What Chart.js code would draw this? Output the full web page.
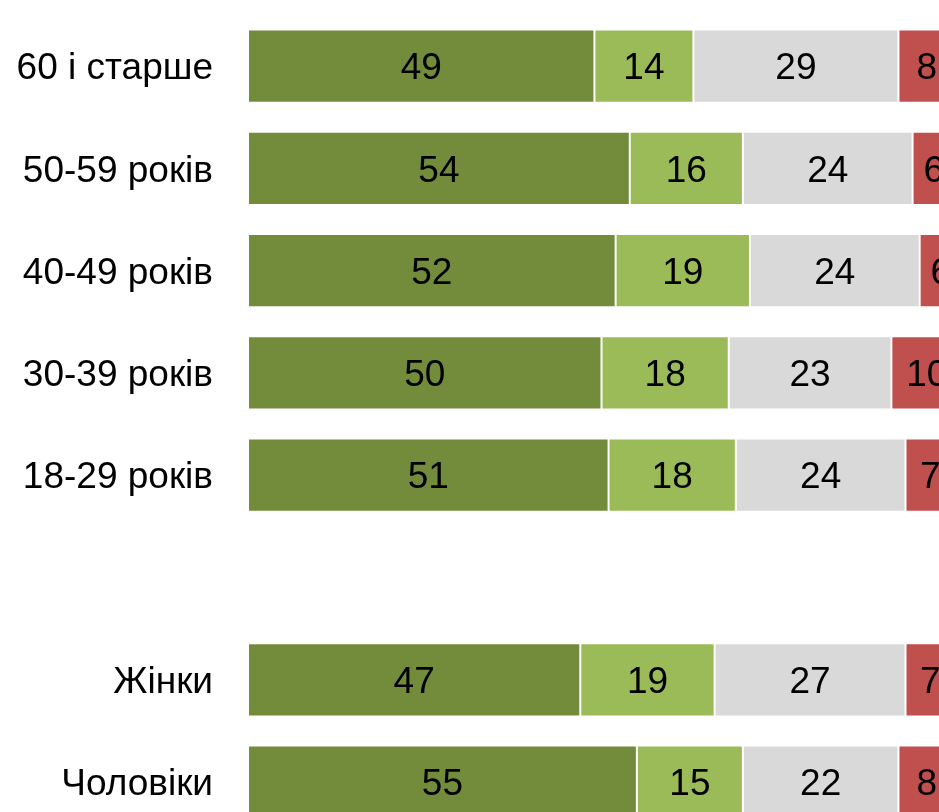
<!DOCTYPE html>
<html>
<head>
<meta charset="utf-8">
<script src="https://cdn.jsdelivr.net/npm/chart.js@4"></script>
<style>
  html, body { margin: 0; padding: 0; background: #fff; overflow: hidden; }
  #wrap { width: 939px; height: 812px; overflow: hidden; }
</style>
</head>
<body>
<div id="wrap"><canvas id="chart" width="956" height="848"></canvas></div>
<script>
// Categories (top to bottom), empty one is the gap between age and gender groups
const categories = ["60 і старше", "50-59 років", "40-49 років", "30-39 років", "18-29 років", "", "Жінки", "Чоловіки"];

// Series values
const series1 = [49, 54, 52, 50, 51, null, 47, 55];
const series2 = [14, 16, 19, 18, 18, null, 19, 15];
const series3 = [29, 24, 24, 23, 24, null, 27, 22];
const series4 = [8, 6, 6, 10, 7, null, 7, 8];

const colors = ["#728c3c", "#9bbb59", "#d9d9d9", "#c0504d"];
const fontFamily = "'Liberation Sans', Arial, sans-serif";

// Draw value in the middle of each segment
const valueLabels = {
  id: "valueLabels",
  afterDatasetsDraw(chart) {
    const ctx = chart.ctx;
    ctx.save();
    ctx.font = "37px " + fontFamily;
    ctx.fillStyle = "#000";
    ctx.textAlign = "center";
    ctx.textBaseline = "middle";
    chart.data.datasets.forEach((ds, i) => {
      chart.getDatasetMeta(i).data.forEach((bar, j) => {
        const v = ds.data[j];
        if (v === null || v === undefined) return;
        const p = bar.getProps(["x", "y", "base"], true);
        ctx.fillText(String(v), (p.x + p.base) / 2, p.y + 3);
      });
    });
    ctx.restore();
  },
};

const datasets = [series1, series2, series3, series4].map((d, i) => ({
  data: d,
  backgroundColor: colors[i],
  borderColor: "rgba(255,255,255,0.45)",
  borderWidth: 1,
  borderSkipped: false,
  barPercentage: 0.716,
  categoryPercentage: 1,
}));

new Chart(document.getElementById("chart").getContext("2d"), {
  type: "bar",
  data: { labels: categories, datasets: datasets },
  options: {
    indexAxis: "y",
    responsive: false,
    animation: false,
    layout: { padding: { top: 15, right: 1, bottom: 0, left: 0 } },
    plugins: { legend: { display: false }, tooltip: { enabled: false } },
    scales: {
      x: { stacked: true, display: false, min: 0, max: 100 },
      y: {
        stacked: true,
        border: { display: false },
        // tick marks are not drawn (grid hidden) but their length gives the gap
        grid: { display: false, drawTicks: true, tickLength: 35 },
        ticks: {
          padding: 0,
          labelOffset: 3,
          color: "#000",
          font: { size: 37, family: fontFamily, lineHeight: 0.8 },
        },
        afterFit(scale) { scale.width = 248; },
      },
    },
  },
  plugins: [valueLabels],
});
</script>
</body>
</html>
